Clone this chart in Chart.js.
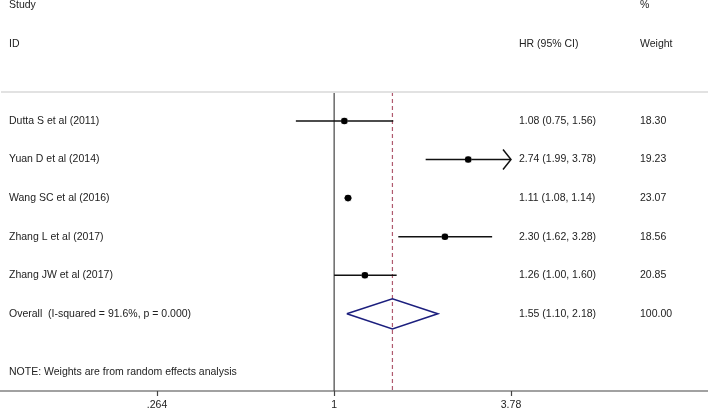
<!DOCTYPE html>
<html>
<head>
<meta charset="utf-8">
<script src="https://cdn.jsdelivr.net/npm/chart.js@4/dist/chart.umd.min.js"></script>
<style>
  html, body { margin: 0; padding: 0; background: #fff; }
  canvas { display: block; }
</style>
</head>
<body>
<canvas id="forest" width="710" height="413"></canvas>
<script>
// donnees du forest plot
const studies = ['Dutta S et al (2011)', 'Yuan D et al (2014)', 'Wang SC et al (2016)', 'Zhang L et al (2017)', 'Zhang JW et al (2017)'];
const hr = [1.08, 2.74, 1.11, 2.30, 1.26];
const lower = [0.75, 1.99, 1.08, 1.62, 1.00];
const upper = [1.56, 3.78, 1.14, 3.28, 1.60];
const weights = ['18.30', '19.23', '23.07', '18.56', '20.85'];
const overallLabel = 'Overall  (I-squared = 91.6%, p = 0.000)';
const overall = [1.55, 1.10, 2.18];
const overallWeight = '100.00';
const xTicks = [0.264, 1, 3.78];
const xTickLabels = ['.264', '1', '3.78'];
const note = 'NOTE: Weights are from random effects analysis';

const FONT = '10.5px "Liberation Sans", Arial, sans-serif';
const TXT = '#222';
const rows = studies.map((s, i) => i + 1);
const overallRow = studies.length + 1;

function fmt(v) { return v.toFixed(2); }

const datasets = [];

// ligne verticale a 1
datasets.push({
    type: 'line', order: 5, data: [{x: 1, y: 0.25}, {x: 1, y: 8}],
    borderColor: '#444', borderWidth: 1.2, pointRadius: 0
});
// ligne pointillee a l'effet global
datasets.push({
    type: 'line', order: 4, data: [{x: overall[0], y: 0.25}, {x: overall[0], y: 8}],
    borderColor: '#b05a6e', borderWidth: 1.2, borderDash: [4, 3], pointRadius: 0
});
// intervalles de confiance
studies.forEach((s, i) => {
    datasets.push({
        type: 'line', order: 3, data: [{x: lower[i], y: rows[i]}, {x: upper[i], y: rows[i]}],
        borderColor: '#111', borderWidth: 1.5, pointRadius: 0
    });
});
// losange global
datasets.push({
    type: 'line', order: 3,
    data: [
        {x: overall[1], y: overallRow},
        {x: overall[0], y: overallRow - 0.39},
        {x: overall[2], y: overallRow},
        {x: overall[0], y: overallRow + 0.39},
        {x: overall[1], y: overallRow}
    ],
    borderColor: '#1c1f7e', borderWidth: 1.6, pointRadius: 0, tension: 0
});
// carres de poids (gris)
datasets.push({
    type: 'scatter', order: 2, data: hr.map((v, i) => ({x: v, y: rows[i]})),
    pointStyle: 'rect', pointRadius: 4.5, backgroundColor: '#d0d0d0', borderWidth: 0
});
// estimations ponctuelles
datasets.push({
    type: 'scatter', order: 1, data: hr.map((v, i) => ({x: v, y: rows[i]})),
    pointStyle: 'circle', pointRadius: 3.3, backgroundColor: '#000', borderWidth: 0
});

const textPlugin = {
    id: 'forestText',
    afterDatasetsDraw(chart) {
        const ctx = chart.ctx;
        const y = chart.scales.y;
        const x = chart.scales.x;
        const area = chart.chartArea;
        ctx.save();
        // ligne grise du haut
        ctx.strokeStyle = '#e2e2e2';
        ctx.lineWidth = 2;
        ctx.beginPath();
        ctx.moveTo(1, area.top);
        ctx.lineTo(708, area.top);
        ctx.stroke();
        // axe du bas
        ctx.strokeStyle = '#444';
        ctx.lineWidth = 1.2;
        ctx.beginPath();
        ctx.moveTo(0, area.bottom);
        ctx.lineTo(708, area.bottom);
        ctx.stroke();
        // fleche pour Yuan
        const ay = y.getPixelForValue(rows[1]);
        const ax = x.getPixelForValue(upper[1]);
        ctx.strokeStyle = '#111';
        ctx.lineWidth = 1.5;
        ctx.beginPath();
        ctx.moveTo(ax - 8, ay - 10);
        ctx.lineTo(ax, ay);
        ctx.lineTo(ax - 8, ay + 10);
        ctx.stroke();

        ctx.font = FONT;
        ctx.fillStyle = TXT;
        ctx.textBaseline = 'middle';
        ctx.textAlign = 'left';
        const c1 = 9, c2 = 519, c3 = 640;
        ctx.fillText('Study', c1, y.getPixelForValue(-2));
        ctx.fillText('ID', c1, y.getPixelForValue(-1));
        ctx.fillText('%', c3, y.getPixelForValue(-2));
        ctx.fillText('HR (95% CI)', c2, y.getPixelForValue(-1));
        ctx.fillText('Weight', c3, y.getPixelForValue(-1));
        studies.forEach((s, i) => {
            const py = y.getPixelForValue(rows[i]);
            ctx.fillText(s, c1, py);
            ctx.fillText(fmt(hr[i]) + ' (' + fmt(lower[i]) + ', ' + fmt(upper[i]) + ')', c2, py);
            ctx.fillText(weights[i], c3, py);
        });
        const oy = y.getPixelForValue(overallRow);
        ctx.fillText(overallLabel, c1, oy);
        ctx.fillText(fmt(overall[0]) + ' (' + fmt(overall[1]) + ', ' + fmt(overall[2]) + ')', c2, oy);
        ctx.fillText(overallWeight, c3, oy);
        ctx.fillText(note, c1, y.getPixelForValue(7.52));
        ctx.restore();
    }
};

new Chart(document.getElementById('forest'), {
    type: 'line',
    data: { datasets: datasets },
    options: {
        responsive: false,
        animation: false,
        layout: { padding: { left: 157, right: 199, top: 92, bottom: 0 } },
        plugins: { legend: { display: false }, tooltip: { enabled: false } },
        scales: {
            x: {
                type: 'logarithmic',
                min: xTicks[0],
                max: xTicks[2],
                afterBuildTicks: scale => { scale.ticks = xTicks.map(v => ({value: v})); },
                afterFit: scale => { scale.height = 22; },
                border: { display: false },
                grid: { drawOnChartArea: false, tickLength: 5, color: '#444', tickWidth: 1.2 },
                ticks: {
                    padding: 3,
                    color: TXT,
                    font: { family: '"Liberation Sans", Arial, sans-serif', size: 10.5 },
                    maxRotation: 0,
                    autoSkip: false,
                    callback: (v, i) => xTickLabels[i]
                }
            },
            y: {
                type: 'linear',
                reverse: true,
                min: 0.25,
                max: 8,
                display: false
            }
        }
    },
    plugins: [textPlugin]
});
</script>
</body>
</html>
